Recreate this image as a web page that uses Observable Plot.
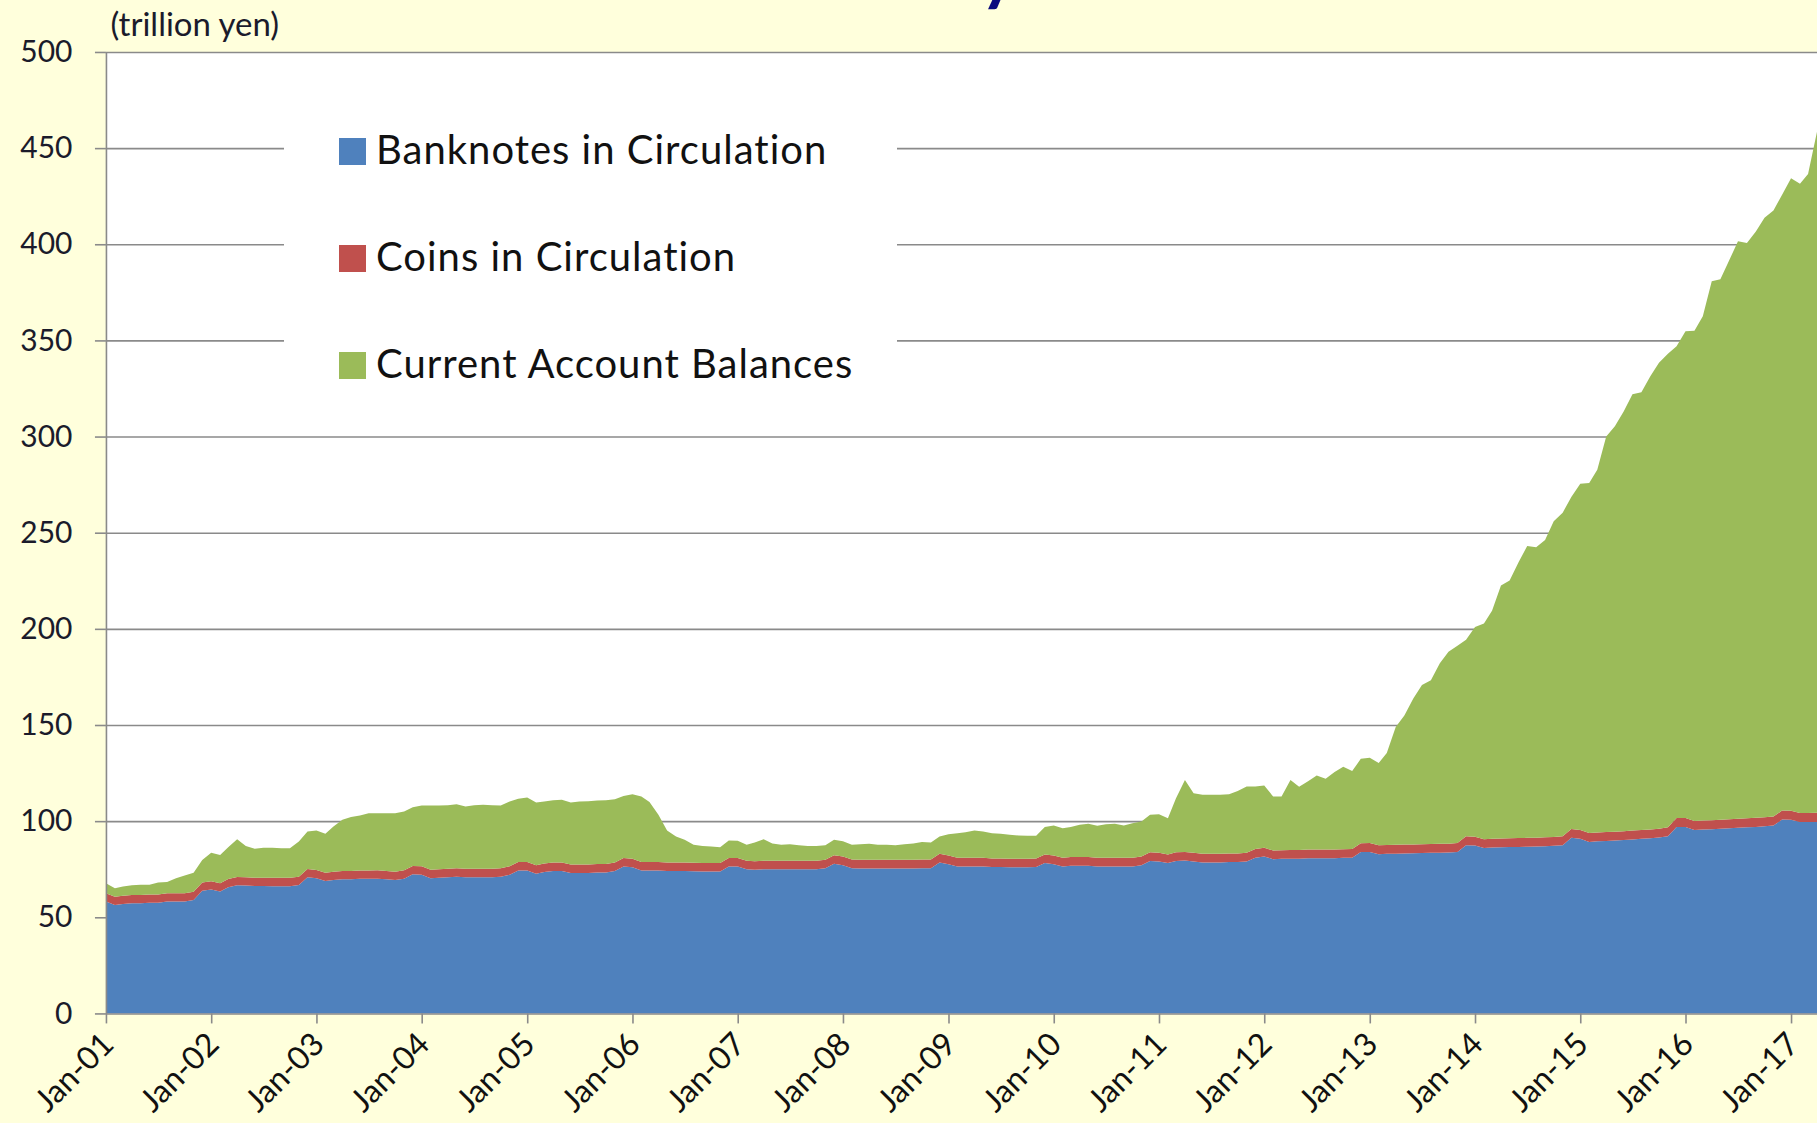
<!DOCTYPE html>
<html>
<head>
<meta charset="utf-8">
<script src="https://cdn.jsdelivr.net/npm/d3@7"></script>
<script src="https://cdn.jsdelivr.net/npm/@observablehq/plot@0.6"></script>
<style>
  html, body { margin: 0; padding: 0; background: #FFFFDC; overflow: hidden; }
  #wrap { position: relative; width: 1817px; height: 1123px; overflow: hidden; font-family: Lato, sans-serif; background: #FFFFDC; }
  #chart { position: absolute; left: 0; top: 0; }
  #title { position: absolute; right: 800px; top: -72px; font: bold 70px/84px Lato, sans-serif; color: #0b0b7e; white-space: nowrap; }
  #title span { position: absolute; left: 100%; top: 0; }
  #legend { position: absolute; left: 284px; top: 105px; width: 613px; height: 300px; background: #ffffff; }
  .sw { position: absolute; left: 55px; width: 27px; height: 27px; }
  .lt { position: absolute; left: 92px; font-size: 40px; letter-spacing: 1px; line-height: 1; white-space: nowrap; color: #111111; }
</style>
</head>
<body>
<div id="wrap">
  <div id="chart"></div>
  <div id="title">Monetary<span>&nbsp;Base</span></div>
  <div id="legend"></div>
</div>
<script>
// ---- data (trillion yen, monthly averages, Jan 2001 – Apr 2017) ----
const seriesNames = ["Banknotes in Circulation", "Coins in Circulation", "Current Account Balances"];
const seriesColors = ["#4F81BD", "#C0504D", "#9BBB59"];
const yTicks = [0, 50, 100, 150, 200, 250, 300, 350, 400, 450, 500];
const tickYears = [2001, 2002, 2003, 2004, 2005, 2006, 2007, 2008, 2009, 2010, 2011, 2012, 2013, 2014, 2015, 2016, 2017];
const unitLabel = "(trillion yen)";

const banknotes = [
  58.2,56.4,56.9,57.3,57.3,57.6,57.6,58.2,58.2,58.2,59.0,63.8,
  64.5,63.4,65.6,66.7,66.5,66.3,66.3,66.2,66.2,66.2,66.8,70.8,
  70.3,68.9,69.4,69.8,69.8,70.0,70.0,70.1,69.8,69.4,70.1,72.4,
  72.1,70.3,70.6,70.8,71.1,70.8,70.8,70.8,70.8,71.1,72.1,74.3,
  74.3,72.6,73.6,74.1,74.1,73.0,73.0,73.0,73.3,73.3,74.1,76.4,
  76.0,74.3,74.3,74.3,74.1,74.1,74.1,73.9,73.8,73.8,73.8,76.4,
  76.4,75.0,74.7,75.0,75.0,75.0,75.0,75.0,75.0,75.0,75.5,77.8,
  77.1,75.5,75.4,75.4,75.4,75.4,75.4,75.4,75.4,75.5,75.5,78.5,
  77.6,76.4,76.4,76.4,76.4,76.1,76.1,76.0,76.0,76.0,76.1,78.2,
  77.6,76.4,76.8,76.8,76.8,76.4,76.4,76.4,76.4,76.4,77.1,79.3,
  79.0,78.2,79.3,79.5,79.0,78.5,78.5,78.5,78.7,78.7,79.0,81.0,
  81.6,80.2,80.4,80.5,80.5,80.7,80.7,80.7,80.7,80.9,81.0,84.0,
  84.0,82.8,83.0,83.1,83.2,83.3,83.4,83.5,83.6,83.7,84.0,87.5,
  87.3,86.0,86.3,86.4,86.5,86.6,86.7,86.8,87.0,87.2,87.5,91.3,
  90.8,89.2,89.5,89.7,89.9,90.2,90.5,90.8,91.1,91.5,92.2,97.0,
  96.9,95.4,95.6,95.8,96.0,96.3,96.5,96.8,97.0,97.3,97.7,100.8,
  100.7,99.5,99.5,99.6
];

const coins = [
  4.3,4.3,4.3,4.3,4.3,4.3,4.3,4.3,4.3,4.3,4.3,4.3,
  4.3,4.3,4.3,4.3,4.3,4.3,4.3,4.3,4.3,4.3,4.3,4.3,
  4.3,4.3,4.3,4.3,4.3,4.3,4.3,4.3,4.3,4.3,4.3,4.3,
  4.4,4.4,4.4,4.4,4.4,4.4,4.4,4.4,4.4,4.4,4.4,4.4,
  4.4,4.4,4.4,4.4,4.4,4.4,4.4,4.4,4.4,4.4,4.4,4.4,
  4.4,4.4,4.4,4.4,4.4,4.4,4.4,4.4,4.4,4.4,4.4,4.4,
  4.4,4.4,4.4,4.4,4.4,4.4,4.4,4.4,4.4,4.4,4.4,4.4,
  4.5,4.5,4.5,4.5,4.5,4.5,4.5,4.5,4.5,4.5,4.5,4.5,
  4.5,4.5,4.5,4.5,4.5,4.5,4.5,4.5,4.5,4.5,4.5,4.5,
  4.5,4.5,4.5,4.5,4.5,4.5,4.5,4.5,4.5,4.5,4.5,4.5,
  4.5,4.5,4.5,4.5,4.5,4.5,4.5,4.5,4.5,4.5,4.5,4.5,
  4.5,4.5,4.5,4.5,4.5,4.5,4.5,4.5,4.5,4.5,4.5,4.5,
  4.6,4.6,4.6,4.6,4.6,4.6,4.6,4.6,4.6,4.6,4.6,4.6,
  4.6,4.6,4.6,4.6,4.6,4.6,4.6,4.6,4.6,4.6,4.6,4.6,
  4.6,4.6,4.6,4.6,4.6,4.6,4.6,4.6,4.6,4.6,4.6,4.6,
  4.7,4.7,4.7,4.7,4.7,4.7,4.7,4.7,4.7,4.7,4.7,4.7,
  4.7,4.7,4.7,4.7
];

const currentAccount = [
  5.2,4.4,4.8,5.1,5.3,5.0,6.2,5.8,7.8,9.2,9.9,11.7,
  14.8,14.7,16.5,19.6,16.3,15.0,15.6,15.7,15.4,15.4,18.3,19.5,
  20.5,20.2,23.5,26.6,28.0,28.6,29.8,29.7,30.0,30.4,30.6,30.5,
  31.6,33.4,33.1,33.1,33.3,32.4,33.1,33.3,33.1,32.6,33.7,32.9,
  33.6,32.7,32.2,32.4,32.6,32.3,32.8,33.0,33.0,33.2,32.9,32.3,
  33.6,34.1,31.3,24.6,16.6,13.5,11.8,9.4,8.9,8.6,8.2,9.1,
  9.0,8.3,9.8,11.2,9.0,8.3,8.6,8.0,7.7,7.7,7.5,8.1,
  8.0,7.7,8.1,8.3,7.8,7.8,7.5,8.1,8.5,9.2,8.9,9.0,
  11.1,12.8,13.3,14.2,13.7,13.1,12.8,12.4,12.0,11.9,11.8,14.2,
  15.6,15.4,15.6,16.8,17.3,16.7,17.5,17.7,16.8,18.0,18.2,19.5,
  20.1,18.8,28.1,37.4,31.0,30.7,30.7,30.7,30.8,32.5,34.5,32.5,
  32.4,28.1,27.9,36.4,32.9,35.5,38.6,36.8,40.4,42.9,40.6,43.9,
  44.4,42.8,47.9,61.3,67.2,75.9,82.8,85.2,93.9,99.8,102.6,102.2,
  109.1,112.2,118.5,131.6,134.1,143.4,151.8,151.1,154.6,164.2,168.3,172.7,
  180.1,182.0,188.6,205.7,210.8,218.4,226.9,227.6,235.7,242.3,246.3,245.3,
  253.1,254.9,262.3,280.3,281.1,290.8,300.4,299.1,304.9,311.8,315.2,320.3,
  328.9,327.3,332.3,354.2
];

// ---- build table ----
const months = banknotes.map((_, i) => new Date(Date.UTC(2001, i, 1)));
const seriesValues = [banknotes, coins, currentAccount];
const rows = [];
seriesNames.forEach((name, k) => {
  seriesValues[k].forEach((v, i) => rows.push({date: months[i], series: name, value: v}));
});
const xStart = new Date(Date.UTC(2001, 0, 1));
const xEnd = new Date(Date.UTC(2017, 3, 1));
const tickDates = tickYears.map(y => new Date(Date.UTC(y, 0, 1)));
const fmt = d => "Jan-" + String(d.getUTCFullYear() % 100).padStart(2, "0");

const grey = "#8a8a8a";
const chart = Plot.plot({
  width: 1818,
  height: 1123,
  marginLeft: 106,
  marginRight: 0,
  marginTop: 52,
  marginBottom: 109,
  style: {background: "transparent", fontFamily: "Lato, sans-serif", overflow: "visible"},
  x: {type: "utc", domain: [xStart, xEnd]},
  y: {domain: [0, 500]},
  color: {domain: seriesNames, range: seriesColors},
  marks: [
    Plot.frame({fill: "white", stroke: null}),
    Plot.ruleY(yTicks.filter(d => d > 0), {stroke: grey, strokeWidth: 1.6}),
    Plot.areaY(rows, {x: "date", y: "value", fill: "series", order: seriesNames}),
    Plot.ruleY([0], {stroke: grey, strokeWidth: 1.6}),
    Plot.ruleX([xStart], {stroke: grey, strokeWidth: 1.6}),
    Plot.axisY(yTicks, {tickSize: 11, tickPadding: 23, fontSize: 30, stroke: grey, strokeWidth: 1.6, fill: "#1b1b2b", label: null}),
    // x tick marks
    Plot.axisX(tickDates, {tickFormat: () => "", tickSize: 10, stroke: grey, strokeWidth: 1.6, label: null}),
    // x tick labels (rotated)
    Plot.axisX(tickDates, {tickFormat: fmt, tickRotate: -45, tickSize: 0, tickPadding: 25, dx: 2, fontSize: 32, fill: "#111111", label: null}),
    Plot.text([unitLabel], {frameAnchor: "top-left", textAnchor: "start", lineAnchor: "middle", dx: 4, dy: -27, fontSize: 33, fill: "#1b1b2b"})
  ]
});
document.getElementById("chart").appendChild(chart);

// ---- legend (overlay inside the plot area) ----
const legend = document.getElementById("legend");
const swTops = [33, 140, 247];
const txtTops = [23.8, 131.2, 237.8];
seriesNames.forEach((name, k) => {
  const sw = document.createElement("div");
  sw.className = "sw";
  sw.style.top = swTops[k] + "px";
  sw.style.background = seriesColors[k];
  legend.appendChild(sw);
  const t = document.createElement("div");
  t.className = "lt";
  t.style.top = txtTops[k] + "px";
  t.textContent = name;
  legend.appendChild(t);
});
</script>
</body>
</html>
